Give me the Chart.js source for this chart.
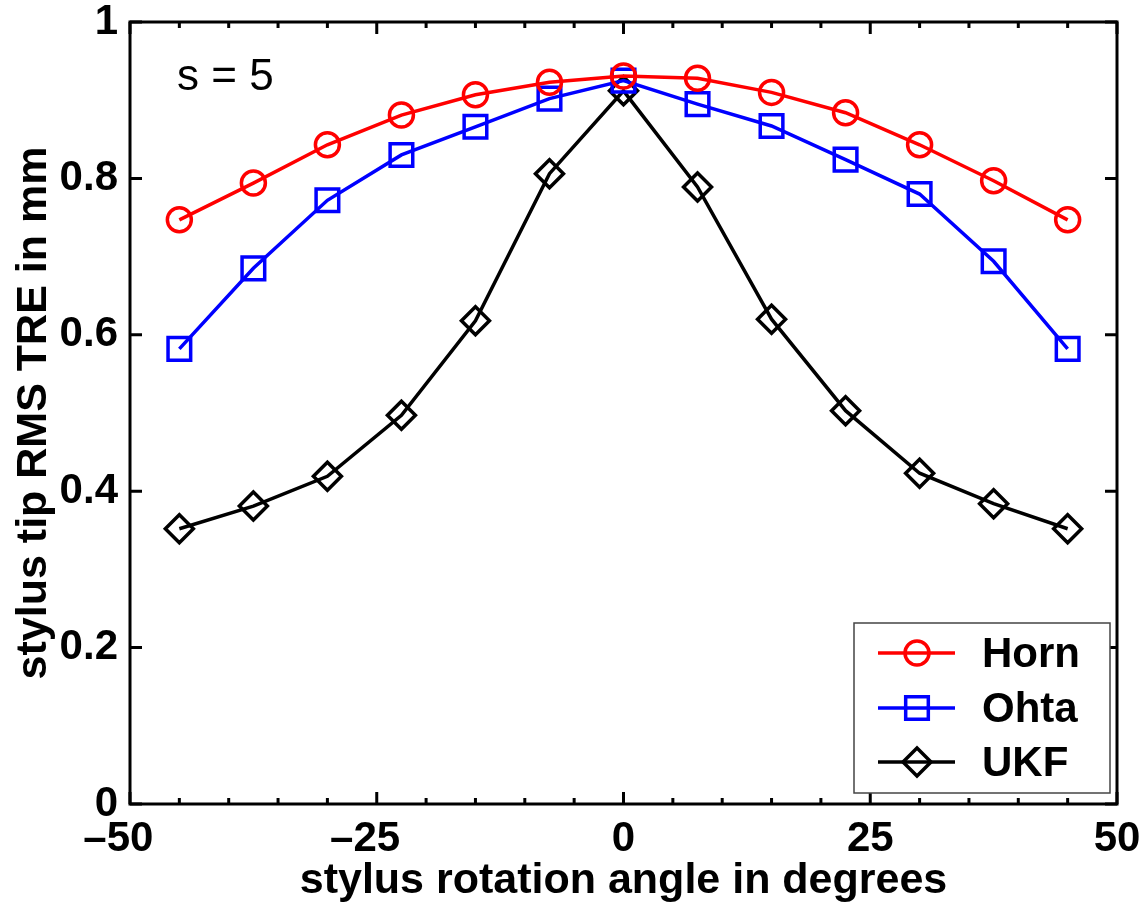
<!DOCTYPE html>
<html>
<head>
<meta charset="utf-8">
<script src="https://cdn.jsdelivr.net/npm/chart.js@4/dist/chart.umd.min.js"></script>
<style>
  html, body { margin: 0; padding: 0; background: #fff; }
  #wrap { width: 1147px; height: 907px; }
</style>
</head>
<body>
<div id="wrap"><canvas id="tre"></canvas></div>
<script>
// DATA
const angles = [-45, -37.5, -30, -22.5, -15, -7.5, 0, 7.5, 15, 22.5, 30, 37.5, 45];
const horn = [0.747, 0.794, 0.843, 0.881, 0.907, 0.923, 0.931, 0.928, 0.910, 0.884, 0.843, 0.797, 0.747];
const ohta = [0.582, 0.685, 0.772, 0.830, 0.866, 0.902, 0.925, 0.895, 0.867, 0.824, 0.780, 0.694, 0.582];
const ukf = [0.352, 0.381, 0.419, 0.497, 0.618, 0.806, 0.912, 0.789, 0.620, 0.503, 0.423, 0.384, 0.352];
const xTicks = [-50, -25, 0, 25, 50];
const xMinorTicks = [-45, -40, -35, -30, -20, -15, -10, -5, 5, 10, 15, 20, 30, 35, 40, 45];
const yTicks = [0, 0.2, 0.4, 0.6, 0.8, 1];
const seriesNames = ["Horn", "Ohta", "UKF"];
const noteText = "s = 5";

const FONT = "'Liberation Sans', Arial, sans-serif";

function toPoints(ys) {
    return angles.map((a, i) => ({ x: a, y: ys[i] }));
}

function series(label, ys, color, style, radius) {
    return {
        label: label,
        data: toPoints(ys),
        borderColor: color,
        backgroundColor: "rgba(0,0,0,0)",
        borderWidth: 3.5,
        pointStyle: style,
        pointRadius: radius,
        pointBorderWidth: 3.5,
        pointBorderColor: color,
        pointBackgroundColor: "rgba(0,0,0,0)",
        showLine: true,
        tension: 0
    };
}

// minus sign hangs left of the digits, like the original figure
function xLabel(v) {
    return v < 0 ? "\u2013" + Math.abs(v) + "\u2007" : String(v);
}

// AXES BOX, INWARD TICKS, NOTE AND LEGEND
const framePlugin = {
    id: "framePlugin",
    afterDraw(chart) {
        const ctx = chart.ctx;
        const area = chart.chartArea;
        const xs = chart.scales.x;
        const ys = chart.scales.y;

        ctx.save();
        ctx.strokeStyle = "#000";
        ctx.lineWidth = 3;
        ctx.strokeRect(area.left, area.top, area.right - area.left, area.bottom - area.top);

        ctx.beginPath();
        xTicks.forEach(v => {
            const px = xs.getPixelForValue(v);
            ctx.moveTo(px, area.bottom); ctx.lineTo(px, area.bottom - 12);
            ctx.moveTo(px, area.top); ctx.lineTo(px, area.top + 12);
        });
        xMinorTicks.forEach(v => {
            const px = xs.getPixelForValue(v);
            ctx.moveTo(px, area.bottom); ctx.lineTo(px, area.bottom - 6);
            ctx.moveTo(px, area.top); ctx.lineTo(px, area.top + 6);
        });
        yTicks.forEach(v => {
            const py = ys.getPixelForValue(v);
            ctx.moveTo(area.left, py); ctx.lineTo(area.left + 12, py);
            ctx.moveTo(area.right, py); ctx.lineTo(area.right - 12, py);
        });
        ctx.stroke();

        // note
        ctx.fillStyle = "#000";
        ctx.font = "44px " + FONT;
        ctx.textAlign = "left";
        ctx.textBaseline = "middle";
        ctx.fillText(noteText, 177, 78);

        // legend
        const box = { left: 854, top: 623, right: 1110, bottom: 793 };
        ctx.fillStyle = "#fff";
        ctx.fillRect(box.left, box.top, box.right - box.left, box.bottom - box.top);
        ctx.strokeStyle = "#444";
        ctx.lineWidth = 1.5;
        ctx.strokeRect(box.left, box.top, box.right - box.left, box.bottom - box.top);

        const rowsY = [653, 708, 762];
        chart.data.datasets.forEach((ds, i) => {
            const y = rowsY[i];
            ctx.strokeStyle = ds.borderColor;
            ctx.lineWidth = 3.5;
            ctx.beginPath();
            ctx.moveTo(878, y); ctx.lineTo(955, y);
            ctx.stroke();
            ctx.fillStyle = "rgba(0,0,0,0)";
            Chart.helpers.drawPoint(ctx, {
                pointStyle: ds.pointStyle,
                radius: ds.pointRadius,
                borderWidth: 3.5,
                rotation: 0
            }, 917, y);
            ctx.fillStyle = "#000";
            ctx.font = "bold 42px " + FONT;
            ctx.textAlign = "left";
            ctx.textBaseline = "middle";
            ctx.fillText(seriesNames[i], 982, y + 2);
        });
        ctx.restore();
    }
};

new Chart(document.getElementById("tre"), {
    type: "scatter",
    data: {
        datasets: [
            series(seriesNames[0], horn, "#ff0000", "circle", 12),
            series(seriesNames[1], ohta, "#0000ff", "rect", 16),
            series(seriesNames[2], ukf, "#000000", "rectRot", 14)
        ]
    },
    options: {
        responsive: true,
        maintainAspectRatio: false,
        animation: false,
        layout: { padding: { top: 22, right: 30, left: 0, bottom: 0 } },
        plugins: {
            legend: { display: false },
            tooltip: { enabled: false }
        },
        scales: {
            x: {
                type: "linear",
                min: -50,
                max: 50,
                afterBuildTicks: (s) => { s.ticks = xTicks.map(v => ({ value: v })); },
                afterFit: (s) => { s.height = 103; s.paddingLeft = 0; s.paddingRight = 0; },
                grid: { display: false },
                border: { display: false },
                ticks: {
                    color: "#000",
                    padding: 2,
                    maxRotation: 0,
                    font: { family: FONT, size: 42, weight: "bold" },
                    callback: xLabel
                },
                title: {
                    display: true,
                    text: "stylus rotation angle in degrees",
                    color: "#000",
                    padding: { top: -8, bottom: 0 },
                    font: { family: FONT, size: 43, weight: "bold" }
                }
            },
            y: {
                type: "linear",
                min: 0,
                max: 1,
                afterBuildTicks: (s) => { s.ticks = yTicks.map(v => ({ value: v })); },
                afterFit: (s) => { s.width = 130; s.paddingTop = 0; s.paddingBottom = 0; },
                grid: { display: false },
                border: { display: false },
                ticks: {
                    color: "#000",
                    padding: 4,
                    font: { family: FONT, size: 42, weight: "bold" },
                    callback: (v) => String(+v.toFixed(1))
                },
                title: {
                    display: true,
                    text: "stylus tip RMS TRE in mm",
                    color: "#000",
                    padding: { top: 8, bottom: -14 },
                    font: { family: FONT, size: 43, weight: "bold" }
                }
            }
        }
    },
    plugins: [framePlugin]
});
</script>
</body>
</html>
